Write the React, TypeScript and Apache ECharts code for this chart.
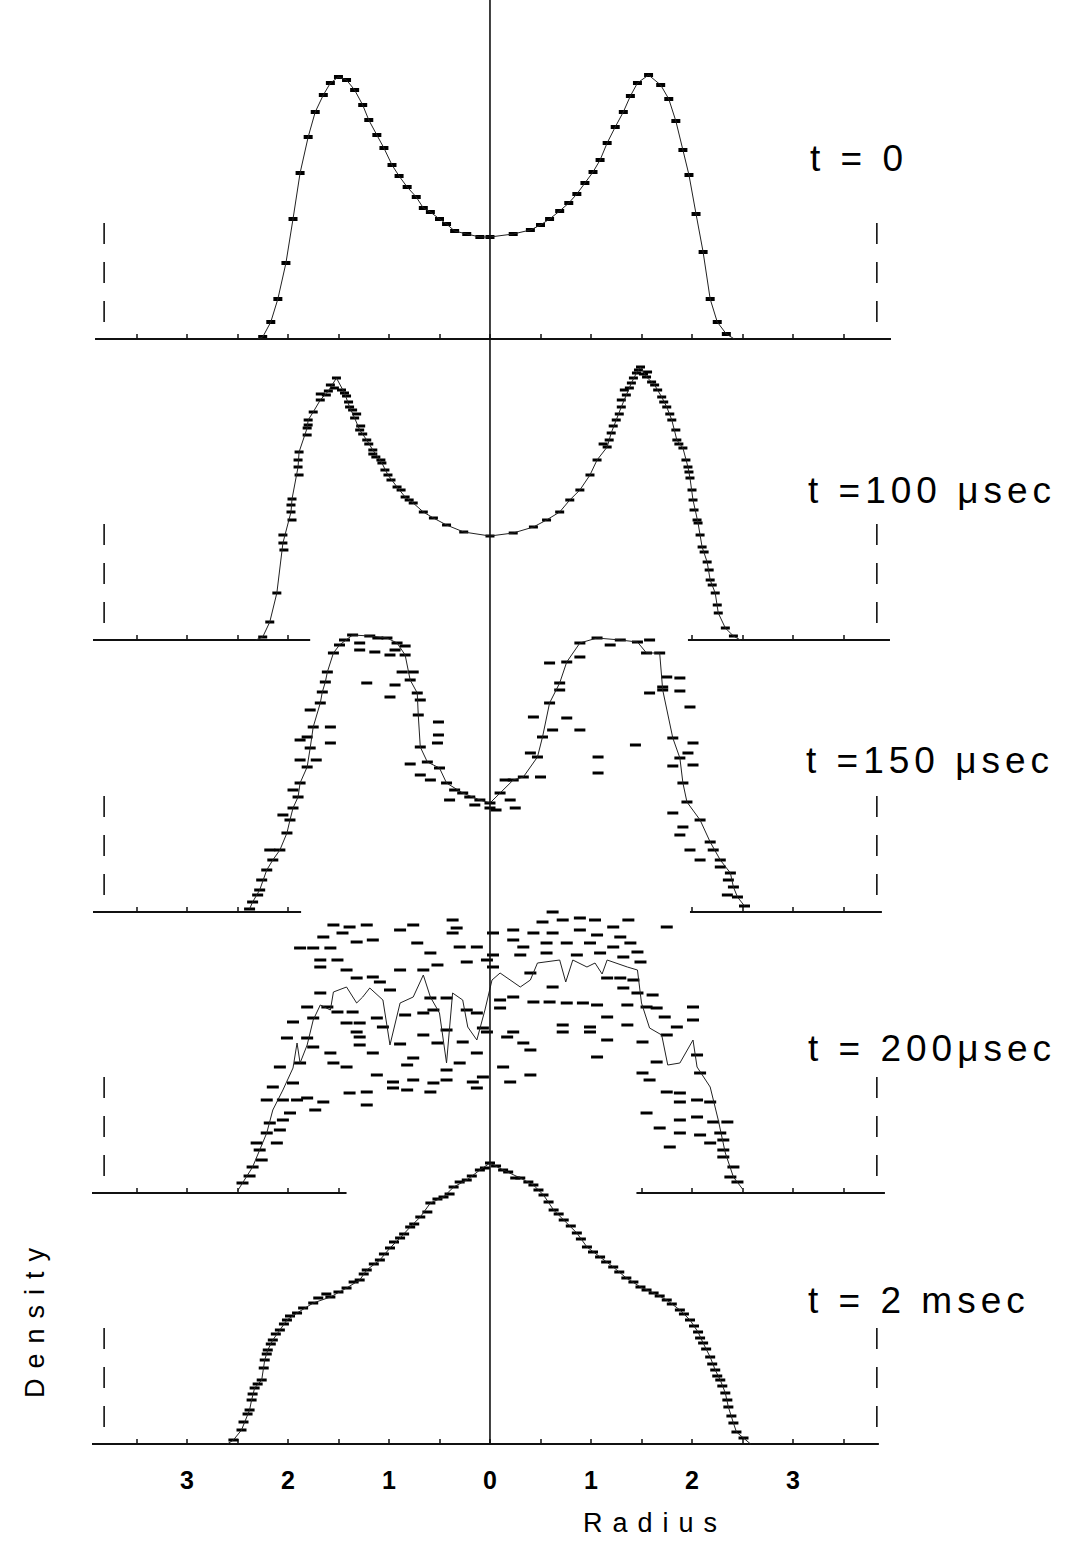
import React, { useEffect, useRef } from "react";
import * as echarts from "echarts";

// ---------- data (radius in units, density in arbitrary units) ----------
const RADIUS_TICKS = [-3.5, -3, -2.5, -2, -1.5, -1, -0.5, 0, 0.5, 1, 1.5, 2, 2.5, 3, 3.5];
const RADIUS_LABELS = [-3, -2, -1, 0, 1, 2, 3];
const PANEL_LABELS = ["t = 0", "t =100 μsec", "t =150 μsec", "t = 200μsec", "t = 2 msec"];
const WALL_LEFT = -3.82;
const WALL_RIGHT = 3.83;
const WALL_TOP = 116;
const WALL_BOTTOM = 17;

const T0_LINE = [
  [-2.3, 0], [-2.25, 2], [-2.17, 17], [-2.1, 40], [-2.02, 76], [-1.95, 120], [-1.88, 166], [-1.8, 202],
  [-1.73, 227], [-1.65, 244], [-1.58, 256], [-1.5, 262], [-1.42, 259], [-1.34, 249], [-1.26, 234],
  [-1.2, 219], [-1.12, 204], [-1.05, 191], [-0.97, 174], [-0.9, 163], [-0.82, 152], [-0.73, 142],
  [-0.66, 131], [-0.59, 127], [-0.5, 120], [-0.43, 115], [-0.35, 108], [-0.23, 105], [-0.1, 102],
  [0, 102], [0.23, 105], [0.4, 109], [0.5, 114], [0.59, 120], [0.69, 128], [0.78, 136], [0.86, 145],
  [0.94, 156], [1.02, 167], [1.09, 179], [1.16, 196], [1.24, 212], [1.32, 227], [1.39, 243], [1.46, 256],
  [1.57, 264], [1.69, 254], [1.77, 240], [1.84, 218], [1.91, 189], [1.97, 164], [2.04, 125], [2.11, 87],
  [2.18, 40], [2.25, 17], [2.34, 5], [2.42, 0],
];

const T100_LINE = [
  [-2.32, 0], [-2.25, 3], [-2.18, 18], [-2.11, 47], [-2.05, 97], [-1.97, 128], [-1.96, 141], [-1.9, 173],
  [-1.89, 188], [-1.81, 212], [-1.8, 220], [-1.75, 228], [-1.68, 240], [-1.6, 249], [-1.52, 262],
  [-1.44, 247], [-1.39, 233], [-1.34, 222], [-1.29, 210], [-1.22, 200], [-1.16, 190], [-1.07, 177],
  [-1.01, 165], [-0.92, 153], [-0.84, 143], [-0.76, 137], [-0.66, 128], [-0.56, 122], [-0.43, 115],
  [-0.26, 108], [0, 104], [0.23, 107], [0.43, 113], [0.56, 120], [0.69, 128], [0.79, 140], [0.89, 150],
  [0.99, 165], [1.06, 180], [1.16, 193], [1.2, 207], [1.25, 220], [1.3, 233], [1.35, 245], [1.4, 257],
  [1.45, 267], [1.49, 273], [1.55, 263], [1.63, 255], [1.7, 243], [1.75, 233], [1.8, 220], [1.85, 200],
  [1.91, 192], [1.96, 173], [1.98, 162], [2.01, 140], [2.06, 117], [2.1, 93], [2.15, 78], [2.18, 60],
  [2.23, 47], [2.26, 27], [2.33, 12], [2.41, 4], [2.48, 0],
];
const T100_EXTRA = [
  [-2.05, 105], [-2.04, 90], [-1.97, 135], [-1.96, 120], [-1.9, 180], [-1.89, 165], [-1.81, 205],
  [-1.8, 215], [-1.68, 246], [-1.62, 245], [-1.58, 255], [-1.54, 252], [-1.47, 250], [-1.42, 244],
  [-1.4, 238], [-1.36, 230], [-1.32, 226], [-1.28, 214], [-1.26, 206], [-1.2, 196], [-1.16, 186],
  [-1.13, 183], [-1.08, 180], [-1.04, 170], [-0.98, 160], [-0.88, 150], [-0.8, 140],
  [1.12, 196], [1.18, 200], [1.22, 214], [1.28, 226], [1.3, 240], [1.33, 250], [1.38, 252], [1.42, 262],
  [1.47, 270], [1.52, 266], [1.56, 268], [1.6, 258], [1.66, 250], [1.72, 238], [1.78, 226], [1.84, 210],
  [1.87, 196], [1.94, 180], [1.97, 168], [2.0, 150], [2.02, 130], [2.05, 120], [2.08, 105], [2.12, 88],
  [2.17, 70], [2.2, 55], [2.25, 35],
];

const T150_LINE = [
  [-2.38, 3], [-2.35, 10], [-2.28, 22], [-2.21, 42], [-2.15, 52], [-2.08, 62], [-2.01, 79], [-1.98, 92],
  [-1.95, 104], [-1.9, 115], [-1.88, 129], [-1.81, 145], [-1.78, 164], [-1.75, 185], [-1.68, 209],
  [-1.66, 220], [-1.63, 230], [-1.61, 240], [-1.55, 259], [-1.49, 267], [-1.36, 277], [-1.19, 276],
  [-1.02, 274], [-0.92, 269], [-0.84, 257], [-0.79, 232], [-0.72, 219], [-0.71, 197], [-0.69, 165],
  [-0.62, 150], [-0.5, 144], [-0.43, 129], [-0.27, 119], [-0.1, 112], [0, 109], [0.1, 119], [0.23, 132],
  [0.33, 135], [0.47, 155], [0.52, 175], [0.59, 209], [0.69, 229], [0.76, 250], [0.89, 269], [1.06, 274],
  [1.29, 272], [1.46, 270], [1.55, 259], [1.68, 259], [1.71, 222], [1.81, 174], [1.88, 154], [1.91, 129],
  [1.95, 110], [2.08, 92], [2.18, 70], [2.28, 52], [2.38, 39], [2.41, 25], [2.45, 15], [2.52, 6],
];
const T150_EXTRA = [
  [-1.58, 185], [-1.58, 169], [-1.22, 229], [-0.99, 215], [-0.51, 190], [-0.51, 177], [-0.52, 169],
  [-0.87, 240], [-0.76, 240], [-1.78, 202], [-1.81, 175], [-1.95, 122], [-2.05, 97], [-2.18, 62],
  [-2.26, 32], [-2.3, 17], [-1.88, 152], [-1.72, 152], [-1.88, 172], [-1.44, 272], [-1.29, 269],
  [-1.11, 274], [-0.94, 262], [-0.84, 266], [-1.14, 260], [-0.94, 227], [-0.69, 212], [-0.59, 132],
  [-0.35, 122], [-0.2, 115], [-0.69, 137], [-0.79, 148], [-1.29, 262], [-0.99, 257], [-0.4, 112],
  [-0.15, 107], [0, 104], [0.2, 112],
  [1.44, 167], [1.07, 155], [1.07, 139], [0.89, 182], [1.58, 219], [2.01, 169], [1.96, 159], [2.01, 147],
  [1.98, 205], [0.43, 195], [0.76, 194], [0.62, 182], [0.4, 159], [0.5, 135], [0.15, 132], [0.06, 102],
  [0.25, 104], [0.59, 249], [0.89, 255], [0.69, 222], [1.19, 267], [1.58, 272], [1.75, 235], [1.88, 234],
  [1.71, 225], [1.88, 221], [1.81, 146], [1.81, 99], [1.91, 85], [1.88, 77], [1.98, 62], [2.21, 62],
  [2.08, 52], [2.28, 45], [2.36, 32], [2.35, 17],
];

const T200_LINE = [
  [-2.5, 2], [-2.45, 10], [-2.35, 26], [-2.28, 43], [-2.21, 60], [-2.15, 83], [-2.05, 103], [-1.95, 125],
  [-1.91, 150], [-1.88, 130], [-1.81, 148], [-1.75, 173], [-1.68, 188], [-1.58, 183], [-1.55, 201],
  [-1.42, 206], [-1.32, 190], [-1.26, 196], [-1.19, 205], [-1.06, 193], [-0.99, 148], [-0.89, 190],
  [-0.76, 196], [-0.66, 218], [-0.59, 196], [-0.5, 180], [-0.43, 130], [-0.37, 200], [-0.27, 193],
  [-0.22, 166], [-0.13, 153], [-0.05, 183], [0.02, 213], [0.1, 220], [0.3, 206], [0.4, 213], [0.47, 230],
  [0.69, 233], [0.75, 211], [0.82, 233], [0.96, 226], [1.04, 230], [1.11, 219], [1.16, 233], [1.36, 226],
  [1.46, 223], [1.5, 190], [1.58, 165], [1.7, 158], [1.76, 128], [1.88, 130], [2.01, 153], [2.05, 126],
  [2.18, 106], [2.26, 73], [2.33, 40], [2.41, 16], [2.5, 4],
];
const T200_MARKS = [
  [-2.45, 10], [-2.38, 17], [-2.35, 26], [-2.28, 43], [-2.31, 50], [-2.26, 33], [-2.11, 50], [-2.21, 60],
  [-2.08, 63], [-2.18, 70], [-2.05, 73], [-1.98, 80], [-2.21, 93], [-2.05, 93], [-1.91, 93], [-1.81, 95],
  [-1.73, 83], [-1.65, 91], [-2.15, 106], [-1.95, 110], [-2.08, 126], [-1.88, 130], [-2.01, 155],
  [-1.81, 155], [-1.75, 146], [-1.95, 171], [-1.75, 175], [-1.81, 186], [-1.61, 186], [-1.68, 200],
  [-1.88, 245], [-1.75, 245], [-1.58, 245], [-1.68, 233], [-1.68, 226], [-1.51, 233], [-1.55, 268],
  [-1.39, 266], [-1.22, 268], [-1.65, 256], [-1.46, 260], [-1.32, 251], [-1.16, 253], [-1.42, 223],
  [-1.32, 215], [-1.16, 216], [-0.99, 203], [-0.89, 223], [-0.76, 268], [-0.89, 263], [-0.72, 250],
  [-0.59, 240], [-0.52, 228], [-0.66, 223], [-0.37, 273], [-0.33, 265], [-0.37, 260], [-0.3, 246],
  [-0.13, 246], [-0.23, 231], [-0.03, 233], [-1.51, 181], [-1.36, 181], [-1.42, 170], [-1.29, 170],
  [-1.12, 175], [-1.06, 166], [-1.32, 161], [-1.29, 156], [-1.29, 148], [-1.16, 140], [-1.58, 140],
  [-1.55, 130], [-1.42, 126], [-1.12, 118], [-0.96, 111], [-0.82, 103], [-0.96, 105], [-1.22, 101],
  [-1.39, 100], [-1.22, 88], [-0.76, 113], [-0.56, 110], [-0.59, 101], [-0.43, 113], [-0.43, 123],
  [-0.3, 130], [-0.17, 111], [-0.13, 105], [-0.76, 135], [-0.82, 128], [-0.89, 149], [-0.66, 158],
  [-0.52, 150], [-0.43, 163], [-0.27, 151], [-0.13, 140], [-0.56, 183], [-0.59, 195], [-0.43, 195],
  [-0.23, 183], [-0.13, 180], [-0.07, 165], [-0.66, 180], [-0.84, 178], [-1.09, 211],
  [0.62, 281], [0.52, 271], [0.72, 273], [0.89, 275], [1.04, 273], [1.22, 266], [1.37, 273], [1.75, 266],
  [0.23, 263], [0.43, 260], [0.62, 260], [0.89, 263], [1.06, 258], [1.29, 256], [1.39, 250], [0.03, 260],
  [0.23, 253], [0.33, 246], [0.56, 250], [0.76, 250], [0.99, 250], [1.22, 246], [1.46, 241], [0.03, 238],
  [0.3, 238], [0.56, 240], [0.86, 238], [1.09, 240], [1.32, 236], [1.49, 231], [0.03, 226], [0.4, 220],
  [0.62, 206], [1.16, 215], [1.29, 215], [1.42, 213], [1.32, 205], [1.46, 200], [1.61, 198], [0.1, 193],
  [0.23, 196], [0.43, 191], [0.59, 191], [0.76, 190], [0.92, 190], [1.06, 188], [1.36, 188], [1.55, 186],
  [1.65, 185], [2.01, 186], [2.01, 173], [1.73, 176], [1.85, 166], [0.1, 185], [1.16, 176], [1.36, 168],
  [0.72, 168], [0.72, 161], [0.99, 166], [0.99, 161], [-0.03, 161], [0.23, 161], [0.33, 150], [0.17, 156],
  [1.16, 153], [1.51, 151], [1.75, 158], [0.4, 143], [1.06, 136], [1.51, 120], [1.65, 131], [1.58, 113],
  [2.05, 138], [2.08, 120], [1.75, 101], [1.88, 100], [1.88, 91], [2.05, 93], [2.18, 91], [1.55, 80],
  [1.68, 65], [1.88, 73], [2.05, 76], [2.21, 71], [2.35, 71], [1.88, 60], [2.08, 58], [2.28, 60],
  [1.78, 46], [2.18, 50], [2.31, 53], [2.31, 43], [2.31, 36], [2.41, 26], [2.38, 16], [2.45, 11],
  [0.13, 126], [0.2, 111], [0.4, 118], [-0.07, 116],
];

const T2MS_LINE = [
  [-2.6, 0], [-2.54, 4], [-2.46, 14], [-2.38, 34], [-2.36, 44], [-2.33, 56], [-2.26, 64], [-2.23, 84],
  [-2.2, 94], [-2.15, 104], [-2.08, 114], [-2.01, 124], [-1.91, 131], [-1.75, 141], [-1.58, 147],
  [-1.42, 156], [-1.29, 164], [-1.22, 174], [-1.09, 184], [-0.99, 196], [-0.89, 206], [-0.79, 217],
  [-0.69, 227], [-0.59, 241], [-0.46, 247], [-0.36, 257], [-0.23, 264], [-0.1, 274], [0, 281], [0.13, 274],
  [0.3, 266], [0.43, 259], [0.53, 249], [0.63, 234], [0.73, 224], [0.86, 211], [0.96, 197], [1.09, 187],
  [1.22, 177], [1.35, 166], [1.49, 157], [1.62, 151], [1.75, 144], [1.88, 134], [1.98, 124], [2.06, 112],
  [2.11, 101], [2.18, 87], [2.23, 74], [2.28, 64], [2.33, 51], [2.36, 37], [2.41, 21], [2.44, 12],
  [2.51, 6], [2.58, 0],
];
const T2MS_EXTRA = [
  [-2.44, 22], [-2.4, 30], [-2.35, 50], [-2.3, 60], [-2.24, 76], [-2.21, 90], [-2.17, 100], [-2.12, 110],
  [-2.04, 120], [-1.98, 128], [-1.85, 136], [-1.7, 146], [-1.62, 150], [-1.5, 152], [-1.35, 162],
  [-1.25, 170], [-1.15, 180], [-1.05, 190], [-0.95, 202], [-0.85, 210], [-0.75, 220], [-0.62, 232],
  [-0.52, 245], [-0.4, 250], [-0.3, 262], [-0.18, 268], [-0.05, 276], [0.06, 278], [0.18, 272],
  [0.25, 266], [0.38, 262], [0.48, 254], [0.58, 242], [0.68, 230], [0.8, 218], [0.9, 205], [1.02, 192],
  [1.15, 182], [1.28, 172], [1.42, 162], [1.55, 154], [1.68, 148], [1.8, 140], [1.92, 130], [2.02, 118],
  [2.08, 106], [2.14, 95], [2.2, 80], [2.25, 68], [2.3, 58], [2.35, 44], [2.39, 28],
];

const BASE_T0 = [[-3.91, 3.97]];
const BASE_T100 = [[-3.93, -1.78], [1.96, 3.96]];
const BASE_T150 = [[-3.93, -1.87], [1.98, 3.88]];
const BASE_T200 = [[-3.94, -1.42], [1.45, 3.91]];
const BASE_T2MS = [[-3.94, 3.85]];

// ---------- layout ----------
const X_MIN = -3.94;
const X_MAX = 3.98;
const Y_MAX = 300;
const PLOT_LEFT = 92;
const PLOT_WIDTH = 800;
const PANEL_BASE_PX = [339, 640, 912, 1193, 1444];
const LABEL_POS = [
  [810, 158], [808, 490], [806, 760], [808, 1048], [808, 1300],
];
const MARK_SIZE = [[9, 4], [9, 3], [11, 3], [12, 3], [10, 3]];

const positive = (arr: number[][]) => arr.filter((p) => p[1] > 0);

const PANELS = [
  { line: T0_LINE, marks: positive(T0_LINE), base: BASE_T0 },
  { line: T100_LINE, marks: positive(T100_LINE).concat(T100_EXTRA), base: BASE_T100 },
  { line: T150_LINE, marks: T150_LINE.concat(T150_EXTRA), base: BASE_T150 },
  { line: T200_LINE, marks: T200_MARKS, base: BASE_T200 },
  { line: T2MS_LINE, marks: positive(T2MS_LINE).concat(T2MS_EXTRA), base: BASE_T2MS },
];

const INK = "#111";

export default function App() {
  const ref = useRef<HTMLDivElement>(null);

  useEffect(() => {
    document.body.style.margin = "0";
    if (!ref.current) return;
    const chart = echarts.init(ref.current, undefined, { renderer: "svg" });

    const grids: any[] = [];
    const xAxes: any[] = [];
    const yAxes: any[] = [];
    const series: any[] = [];

    PANELS.forEach((p, i) => {
      const last = i === PANELS.length - 1;
      grids.push({ left: PLOT_LEFT, width: PLOT_WIDTH, top: PANEL_BASE_PX[i] - Y_MAX, height: Y_MAX });
      const ticks = RADIUS_TICKS.filter((t) => p.base.some((s) => t >= s[0] && t <= s[1]));
      xAxes.push({
        gridIndex: i,
        type: "value",
        min: X_MIN,
        max: X_MAX,
        axisLine: { show: false },
        splitLine: { show: false },
        axisTick: {
          show: true,
          inside: true,
          length: 5,
          customValues: ticks,
          lineStyle: { color: INK, width: 1.5 },
        },
        axisLabel: last
          ? {
              show: true,
              customValues: RADIUS_LABELS,
              formatter: (v: number) => String(Math.abs(Math.round(v))),
              fontSize: 25,
              fontWeight: "bold",
              fontFamily: "Liberation Sans",
              color: "#000",
              margin: 23,
            }
          : { show: false },
      });
      yAxes.push({ gridIndex: i, type: "value", min: 0, max: Y_MAX, show: false });

      p.base.forEach((s) => {
        series.push({
          type: "line",
          xAxisIndex: i,
          yAxisIndex: i,
          data: [[s[0], 0], [s[1], 0]],
          showSymbol: false,
          silent: true,
          clip: false,
          lineStyle: { color: INK, width: 2.2 },
        });
      });
      [WALL_LEFT, WALL_RIGHT].forEach((w) => {
        series.push({
          type: "line",
          xAxisIndex: i,
          yAxisIndex: i,
          data: [[w, WALL_TOP], [w, WALL_BOTTOM]],
          showSymbol: false,
          silent: true,
          clip: false,
          lineStyle: { color: INK, width: 1.6, type: [21, 18] },
        });
      });
      series.push({
        type: "line",
        xAxisIndex: i,
        yAxisIndex: i,
        data: p.line,
        showSymbol: false,
        silent: true,
        clip: false,
        lineStyle: { color: "#222", width: 1 },
      });
      series.push({
        type: "scatter",
        xAxisIndex: i,
        yAxisIndex: i,
        data: p.marks,
        symbol: "rect",
        symbolSize: MARK_SIZE[i],
        silent: true,
        clip: false,
        itemStyle: { color: "#000", opacity: 1 },
      });
    });

    // full-height centre line at radius 0
    const ci = PANELS.length;
    grids.push({ left: PLOT_LEFT, width: PLOT_WIDTH, top: 0, height: PANEL_BASE_PX[PANEL_BASE_PX.length - 1] });
    xAxes.push({ gridIndex: ci, type: "value", min: X_MIN, max: X_MAX, show: false });
    yAxes.push({ gridIndex: ci, type: "value", min: 0, max: 1, show: false });
    series.push({
      type: "line",
      xAxisIndex: ci,
      yAxisIndex: ci,
      data: [[0, 0], [0, 1]],
      showSymbol: false,
      silent: true,
      clip: false,
      lineStyle: { color: INK, width: 1.6 },
    });

    const graphics: any[] = PANEL_LABELS.map((t, i) => ({
      type: "text",
      x: LABEL_POS[i][0],
      y: LABEL_POS[i][1],
      silent: true,
      style: {
        text: t,
        fontSize: 37,
        fontFamily: "Liberation Sans",
        fill: "#000",
        textAlign: "left",
        align: "left",
        textVerticalAlign: "middle",
        verticalAlign: "middle",
      },
    }));
    graphics.push({
      type: "text",
      x: 655,
      y: 1523,
      silent: true,
      style: {
        text: "Radius",
        fontSize: 27,
        fontFamily: "Liberation Sans",
        fill: "#000",
        textAlign: "center",
        align: "center",
        textVerticalAlign: "middle",
        verticalAlign: "middle",
      },
    });
    graphics.push({
      type: "text",
      x: 35,
      y: 1318,
      rotation: Math.PI / 2,
      silent: true,
      style: {
        text: "Density",
        fontSize: 27,
        fontFamily: "Liberation Sans",
        fill: "#000",
        textAlign: "center",
        align: "center",
        textVerticalAlign: "middle",
        verticalAlign: "middle",
      },
    });

    chart.setOption({
      animation: false,
      backgroundColor: "#fff",
      grid: grids,
      xAxis: xAxes,
      yAxis: yAxes,
      series,
      graphic: { elements: graphics },
    });

    return () => chart.dispose();
  }, []);

  return (
    <>
      <style>{`
        #chart text[style*="37px"], #chart text[font-size="37"] { letter-spacing: 5px; }
        #chart text[style*="27px"], #chart text[font-size="27"] { letter-spacing: 10px; }
      `}</style>
      <div id="chart" ref={ref} style={{ width: 1072, height: 1556 }} />
    </>
  );
}
